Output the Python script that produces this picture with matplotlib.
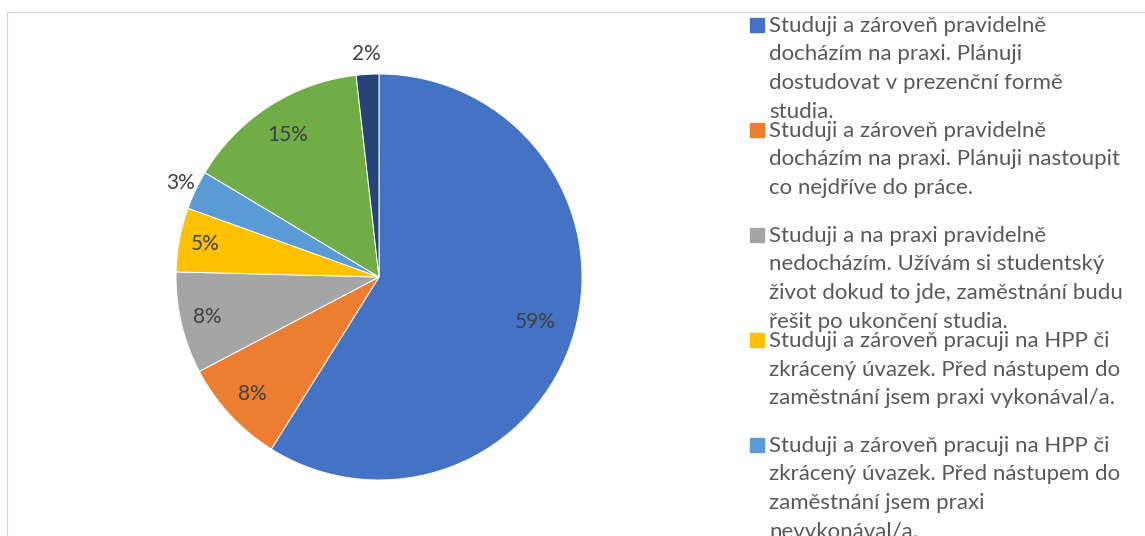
import numpy as np
import matplotlib.pyplot as plt
from matplotlib.lines import Line2D

# shares (labels show rounded percents)
shares = [58.9, 8.4, 8.1, 5.1, 3.1, 14.6, 1.8]
colors = ["#4472C4", "#ED7D31", "#A5A5A5", "#FFC000", "#5B9BD5", "#70AD47", "#264478"]
categories = [
    "Studuji a zároveň pravidelně\ndocházím na praxi. Plánuji\ndostudovat v prezenční formě\nstudia.",
    "Studuji a zároveň pravidelně\ndocházím na praxi. Plánuji nastoupit\nco nejdříve do práce.",
    "Studuji a na praxi pravidelně\nnedocházím. Užívám si studentský\nživot dokud to jde, zaměstnání budu\nřešit po ukončení studia.",
    "Studuji a zároveň pracuji na HPP či\nzkrácený úvazek. Před nástupem do\nzaměstnání jsem praxi vykonával/a.",
    "Studuji a zároveň pracuji na HPP či\nzkrácený úvazek. Před nástupem do\nzaměstnání jsem praxi\nnevykonával/a.",
]

W, H = 1145, 536
plt.rcParams["font.family"] = ["Lato", "DejaVu Sans"]
fig = plt.figure(figsize=(W / 100, H / 100), dpi=100)

# chart frame (only top and left edges are visible in the crop)
fig.add_artist(Line2D([7 / W, 1], [1 - 12 / H, 1 - 12 / H], color="#d9d9d9", lw=1))
fig.add_artist(Line2D([7 / W, 7 / W], [0, 1 - 12 / H], color="#d9d9d9", lw=1))

cx, cy, r = 379, 277, 203
ax = fig.add_axes([(cx - r) / W, (H - cy - r) / H, 2 * r / W, 2 * r / H])
wedges, _ = ax.pie(shares, colors=colors, startangle=90, counterclock=False,
                   radius=1, wedgeprops=dict(edgecolor="white", linewidth=0.7))
ax.set_xlim(-1, 1)
ax.set_ylim(-1, 1)
ax.set_aspect("equal")
ax.axis("off")

# label distance from centre, per slice (small slices get outside labels)
label_r = [0.8, 0.85, 0.87, 0.87, 1.08, 0.83, 1.1]
for w, v, rr in zip(wedges, shares, label_r):
    mid = np.deg2rad((w.theta1 + w.theta2) / 2)
    ax.text(rr * np.cos(mid), rr * np.sin(mid), f"{v:.0f}%", ha="center", va="center",
            fontsize=15, color="#404040", clip_on=False)

# legend drawn by hand so the wrapped lines overlap like the original
for i, (lab, col) in enumerate(zip(categories, colors)):
    base = 32 + 105 * i
    fig.patches.append(plt.Rectangle((750 / W, 1 - base / H), 14 / W, 14 / H,
                                     transform=fig.transFigure, color=col))
    for j, line in enumerate(lab.split("\n")):
        fig.text(769 / W, 1 - (base + 28.5 * j) / H, line, ha="left", va="baseline",
                 fontsize=16, color="#595959")

fig.savefig("out.png", dpi=100)
